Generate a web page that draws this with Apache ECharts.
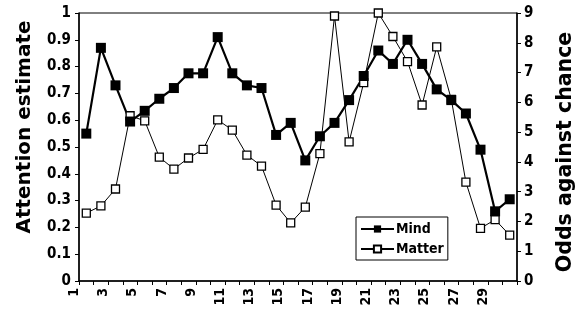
<!DOCTYPE html>
<html>
<head>
<meta charset="utf-8">
<script src="https://cdn.jsdelivr.net/npm/echarts@6/dist/echarts.min.js"></script>
<style>
html,body{margin:0;padding:0;background:#fff;}
#chart{width:578px;height:310px;}
</style>
</head>
<body>
<div id="chart"></div>
<script>
var categories = ['1','2','3','4','5','6','7','8','9','10','11','12','13','14','15','16','17','18','19','20','21','22','23','24','25','26','27','28','29','30'];
var mindValues = [0.55,0.87,0.73,0.595,0.635,0.68,0.72,0.775,0.775,0.91,0.775,0.73,0.72,0.545,0.59,0.45,0.54,0.59,0.675,0.765,0.86,0.81,0.90,0.81,0.715,0.675,0.625,0.49,0.26,0.305];
var matterOdds = [2.28,2.52,3.09,5.55,5.38,4.16,3.76,4.13,4.42,5.41,5.07,4.23,3.86,2.55,1.95,2.48,4.28,8.9,4.67,6.66,9.0,8.21,7.37,5.91,7.86,6.1,3.32,1.77,2.06,1.54];
var leftTicks = ['0','0.1','0.2','0.3','0.4','0.5','0.6','0.7','0.8','0.9','1'];
var rightTicks = ['0','1','2','3','4','5','6','7','8','9'];

var FONT = "'DejaVu Sans Condensed','Liberation Sans Narrow',sans-serif";
var TFONT = "'DejaVu Sans','Verdana',sans-serif";
var chart = echarts.init(document.getElementById('chart'), null, {renderer:'canvas'});
chart.setOption({
  animation: false,
  backgroundColor: '#fff',
  grid: {left: 79, right: 61, top: 13, bottom: 29, show: true, borderColor: '#000', borderWidth: 1,
    containLabel: false, outerBoundsMode: 'none'},
  legend: {
    orient: 'vertical', left: 356, top: 217,
    backgroundColor: '#fff', borderColor: '#000', borderWidth: 1,
    padding: [5, 4, 4, 4], itemGap: 6, itemWidth: 33, itemHeight: 9,
    textStyle: {fontFamily: FONT, fontSize: 14, fontWeight: 'bold', color: '#000', padding: [0,0,0,-3]},
    data: ['Mind', 'Matter']
  },
  xAxis: {
    type: 'category', data: categories, boundaryGap: true,
    axisLine: {lineStyle: {color: '#000', width: 1.5}},
    axisTick: {show: true, length: 4, lineStyle: {color: '#000'}, interval: 0},
    axisLabel: {rotate: 90, interval: 1, margin: 7, color: '#000', fontFamily: FONT, fontSize: 14, fontWeight: 'bold',
      verticalAlign: 'bottom', lineHeight: 24},
    splitLine: {show: false}
  },
  yAxis: [
    {
      type: 'value', min: 0, max: 1, interval: 0.1, position: 'left',
      name: 'Attention estimate', nameLocation: 'middle', nameGap: 44, nameRotate: 90,
      nameTextStyle: {fontFamily: TFONT, fontSize: 20, fontWeight: 'bold', color: '#000', padding: [0,0,0,40]},
      axisLine: {show: true, lineStyle: {color: '#000', width: 1.5}},
      axisTick: {show: true, length: 4, lineStyle: {color: '#000'}},
      axisLabel: {margin: 8, color: '#000', fontFamily: FONT, fontSize: 15, fontWeight: 'bold',
        formatter: function(v){ return leftTicks[Math.round(v*10)]; }},
      splitLine: {show: false}
    },
    {
      type: 'value', min: 0, max: 9, interval: 1, position: 'right',
      name: 'Odds against chance', nameLocation: 'middle', nameGap: 38, nameRotate: 90,
      nameTextStyle: {fontFamily: TFONT, fontSize: 20.5, fontWeight: 'bold', color: '#000', padding: [0,10,0,0]},
      axisLine: {show: true, lineStyle: {color: '#000', width: 1.5}},
      axisTick: {show: true, length: 4, lineStyle: {color: '#000'}},
      axisLabel: {margin: 7, color: '#000', fontFamily: FONT, fontSize: 15, fontWeight: 'bold',
        formatter: function(v){ return rightTicks[Math.round(v)]; }},
      splitLine: {show: false}
    }
  ],
  series: [
    {
      name: 'Matter', type: 'line', yAxisIndex: 1, data: matterOdds,
      symbol: 'rect', symbolSize: 8, showAllSymbol: true,
      itemStyle: {color: '#fff', borderColor: '#000', borderWidth: 1.3},
      lineStyle: {color: '#000', width: 1}
    },
    {
      name: 'Mind', type: 'line', yAxisIndex: 0, data: mindValues,
      symbol: 'rect', symbolSize: 10, showAllSymbol: true,
      itemStyle: {color: '#000', borderColor: '#000', borderWidth: 0},
      lineStyle: {color: '#000', width: 2.2}
    }
  ]
});
</script>
</body>
</html>
